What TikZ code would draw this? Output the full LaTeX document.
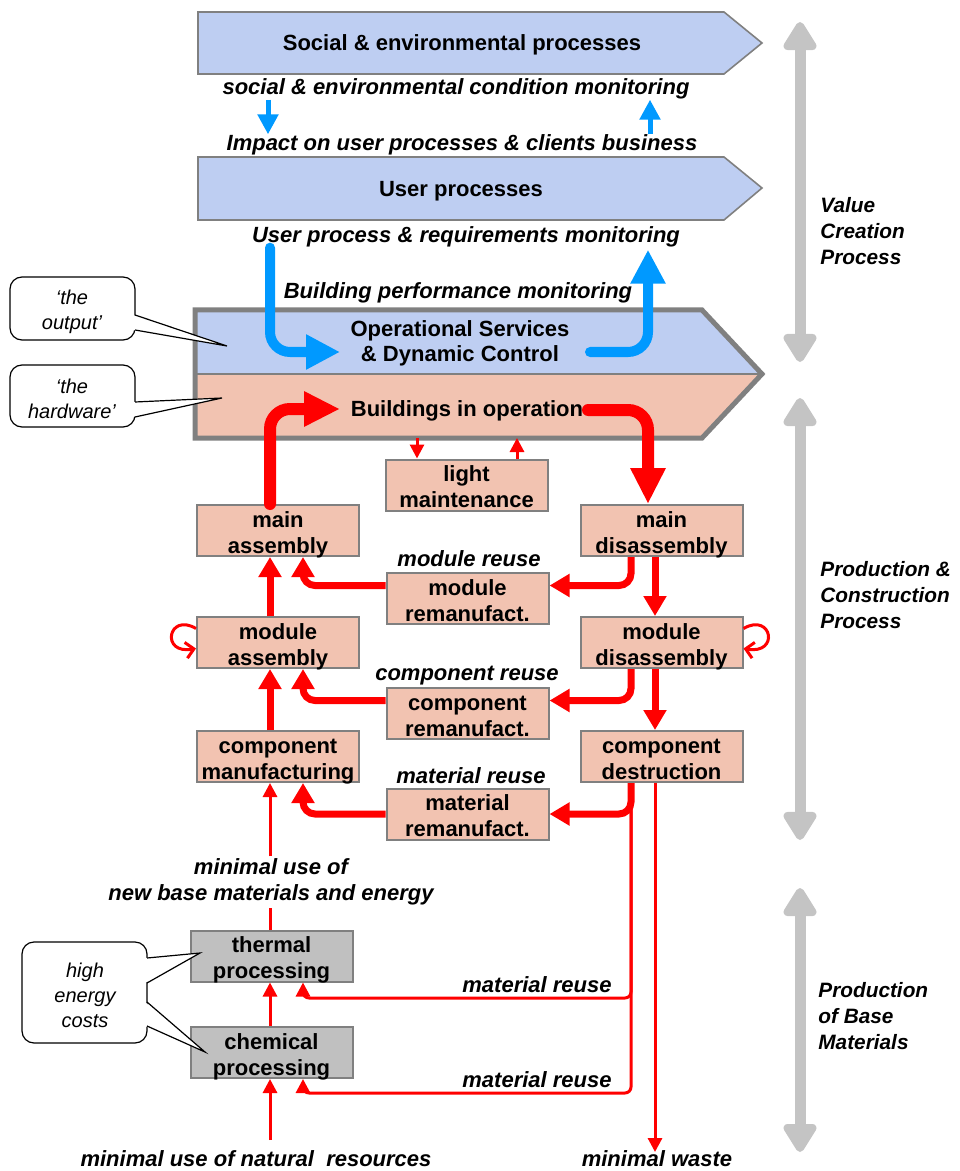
\documentclass[tikz,border=0pt]{standalone}
\usepackage{fontspec}
\setmainfont{Liberation Sans}
\usetikzlibrary{arrows.meta,calc}
\definecolor{procblue}{RGB}{190,206,242}
\definecolor{hwpink}{RGB}{242,195,177}
\definecolor{basegray}{RGB}{192,192,192}
\definecolor{edgegray}{RGB}{128,128,128}
\definecolor{flowblue}{RGB}{0,153,255}
\definecolor{axisgray}{RGB}{196,196,196}
\definecolor{flowred}{RGB}{255,0,0}
% struts that fix the two text lines inside every process box
\newcommand{\boxtopstrut}{\rule{0pt}{13.5pt}}
\newcommand{\boxbotstrut}{\rule[-3.9pt]{0pt}{0pt}}
\begin{document}
\begin{tikzpicture}[x=0.5pt,y=-0.5pt,
  stepbox/.style={draw=edgegray, line width=1pt, fill=hwpink, minimum width=81pt,
    minimum height=25.5pt, inner xsep=0pt, inner ysep=-2.45pt, align=center,
    font=\fontsize{11}{13}\selectfont\bfseries},
  basebox/.style={stepbox, fill=basegray},
  bandtext/.style={inner sep=0pt, align=center, yshift=-1pt,
    font=\fontsize{11}{12.5}\selectfont\bfseries},
  lbl/.style={inner sep=0pt, align=center, yshift=-1pt,
    font=\fontsize{11}{13}\selectfont\bfseries\itshape},
  sidetext/.style={inner sep=0pt, align=left, anchor=west,
    font=\fontsize{10.4}{13}\selectfont\bfseries\itshape},
  calltext/.style={inner sep=0pt, align=center, yshift=-0.6pt,
    font=\fontsize{10}{12.5}\selectfont\itshape},
  callbox/.style={draw=black, line width=0.6pt, fill=white, rounded corners=6pt},
  callline/.style={draw=black, line width=0.6pt},
  redthick/.style={draw=flowred, line width=6pt, line cap=round, rounded corners=10pt,
    -{Triangle[length=18pt,width=16.5pt]}},
  redmed/.style={draw=flowred, line width=3.5pt, rounded corners=6pt,
    -{Triangle[length=10pt,width=11pt]}},
  redthin/.style={draw=flowred, line width=1.5pt, rounded corners=3pt,
    -{Triangle[length=7pt,width=7pt]}},
  redline/.style={draw=flowred, line width=1.5pt, rounded corners=3pt},
  loopline/.style={draw=flowred, line width=1.5pt, -{Straight Barb[length=4pt,width=8pt]}},
  bluethick/.style={draw=flowblue, line width=5pt, line cap=round, rounded corners=10pt,
    -{Triangle[length=17pt,width=16.5pt]}},
  bluesmall/.style={draw=flowblue, line width=2.5pt, -{Triangle[length=10pt,width=10pt]}},
  axisarrow/.style={draw=axisgray, line width=5.5pt,
    {Triangle[length=16pt,width=18.5pt,round]}-{Triangle[length=16pt,width=18.5pt,round]}}
]
\useasboundingbox (0,0) rectangle (959,1171);

% ---- process bands ----
\draw[draw=edgegray, line width=0.8pt, fill=procblue]
  (198,12) -- (724,12) -- (762,43) -- (724,74) -- (198,74) -- cycle;
\node[bandtext] (social) at (462,43) {Social \& environmental processes};

\draw[draw=edgegray, line width=0.8pt, fill=procblue]
  (198,157) -- (724,157) -- (762,188) -- (724,220) -- (198,220) -- cycle;
\node[bandtext] (user) at (461,189) {User processes};

% building frame: operational services on top of the hardware
\fill[procblue] (195,310) -- (702,310) -- (762,374) -- (195,374) -- cycle;
\fill[hwpink] (195,374) -- (762,374) -- (702,438) -- (195,438) -- cycle;
\draw[edgegray, line width=0.6pt] (195,374) -- (760,374);
\draw[edgegray, line width=2.5pt, line join=miter]
  (195,310) -- (702,310) -- (762,374) -- (702,438) -- (195,438) -- cycle;
\node[bandtext] (ops) at (460,341) {Operational Services\\\& Dynamic Control};
\node[bandtext] (bio) at (467,409) {Buildings in operation};

% ---- monitoring labels ----
\node[lbl] (lsoc) at (456,87) {social \& environmental condition monitoring};
\node[lbl] (limp) at (462,143) {Impact on user processes \& clients business};
\node[lbl] (luser) at (466,235) {User process \& requirements monitoring};
\node[lbl] (lbpm) at (458,291) {Building performance monitoring};

% ---- boxes ----
\node[stepbox] (lightm) at (466.5,485) {\boxtopstrut light\\maintenance\boxbotstrut};
\node[stepbox] (mainasm) at (278,530.5) {\boxtopstrut main\\assembly\boxbotstrut};
\node[stepbox] (maindis) at (661.5,530.5) {\boxtopstrut main\\disassembly\boxbotstrut};
\node[stepbox] (modreman) at (467.5,598.5) {\boxtopstrut module\\remanufact.\boxbotstrut};
\node[stepbox] (modasm) at (278,642.5) {\boxtopstrut module\\assembly\boxbotstrut};
\node[stepbox] (moddis) at (661.5,642.5) {\boxtopstrut module\\disassembly\boxbotstrut};
\node[stepbox] (compreman) at (467.5,713.5) {\boxtopstrut component\\remanufact.\boxbotstrut};
\node[stepbox] (compman) at (278,756.5) {\boxtopstrut component\\manufacturing\boxbotstrut};
\node[stepbox] (compdes) at (661.5,756.5) {\boxtopstrut component\\destruction\boxbotstrut};
\node[stepbox] (matreman) at (467.5,814) {\boxtopstrut material\\remanufact.\boxbotstrut};
\node[basebox] (thermal) at (271.5,956) {\boxtopstrut thermal\\processing\boxbotstrut};
\node[basebox] (chemical) at (271.5,1052.5) {\boxtopstrut chemical\\processing\boxbotstrut};

% ---- flow labels ----
\node[lbl] (lmodre) at (469,557) {module reuse};
\node[lbl] (lcompre) at (467,674) {component reuse};
\node[lbl] (lmatre) at (471,774) {material reuse};
\node[lbl, inner sep=1pt] (lnew) at (271,880) {minimal use of\\new base materials and energy};
\node[lbl] (lmatA) at (537,983) {material reuse};
\node[lbl] (lmatB) at (537,1078) {material reuse};
\node[lbl] (lnat) at (256,1157) {minimal use of natural\ \ resources};
\node[lbl] (lwaste) at (657,1157) {minimal waste};

% ---- column and row guides ----
\coordinate (colL) at (270,0);
\coordinate (colLr) at (303,0);
\coordinate (colR) at (655,0);
\coordinate (colRr) at (631,0);
\coordinate (colRt) at (648,0);
\coordinate (colBd) at (268,0);
\coordinate (colBu) at (650,0);
\coordinate (hwbase) at (0,438);
\coordinate (lmdown) at (417,0);
\coordinate (lmup) at (517,0);
\coordinate (rowA) at (0,998);
\coordinate (rowB) at (0,1093);
\coordinate (opsin) at (340,352);
\coordinate (opsout) at (590,352);
\coordinate (bioin) at (340,409);
\coordinate (bioout) at (588,410);
\coordinate (wasteend) at (655,1152);
\coordinate (natstart) at (270,1140);

% ---- blue monitoring flows ----
\draw[bluesmall] (lsoc.south -| colBd) -- (limp.north -| colBd);
\draw[bluesmall] (limp.north -| colBu) -- (lsoc.south -| colBu);
\draw[bluethick] (luser.south -| colL) |- (opsin);
\draw[bluethick] (opsout) -| ([yshift=-1pt]luser.south -| colRt);

% ---- red production flows ----
\draw[redthick] (mainasm.north -| colL) |- (bioin);
\draw[redthick] (bioout) -| (maindis.north -| colRt);
\draw[redthin] (hwbase -| lmdown) -- (lightm.north -| lmdown);
\draw[redthin] (lightm.north -| lmup) -- (hwbase -| lmup);

\draw[redmed] (modasm.north -| colL) -- (mainasm.south -| colL);
\draw[redmed] ([yshift=6.5pt]modreman.west) -| (mainasm.south -| colLr);
\draw[redmed] (maindis.south -| colRr) |- ([yshift=6.5pt]modreman.east);
\draw[redmed] (maindis.south -| colR) -- (moddis.north -| colR);
\draw[redmed] (moddis.south -| colRr) |- ([yshift=6.5pt]compreman.east);
\draw[redmed] (moddis.south -| colR) -- (compdes.north -| colR);
\draw[redmed] ([yshift=6.5pt]compreman.west) -| (modasm.south -| colLr);
\draw[redmed] (compman.north -| colL) -- (modasm.south -| colL);
\draw[redmed] (matreman.west) -| (compman.south -| colLr);
\draw[redmed] (compdes.south -| colRr) |- (matreman.east);

\draw[redthin] (compdes.south -| colRr) |- (rowA -| colLr) -- (thermal.south -| colLr);
\draw[redthin] (compdes.south -| colRr) |- (rowB -| colLr) -- (chemical.south -| colLr);
\draw[redthin] (compdes.south -| colR) -- (wasteend);

\draw[redline] (thermal.north -| colL) -- (lnew.south -| colL);
\draw[redthin] (lnew.north -| colL) -- (compman.south -| colL);
\draw[redthin] (chemical.north -| colL) -- (thermal.south -| colL);
\draw[redthin] (natstart) -- (chemical.south -| colL);

% self loops
\draw[loopline] ([yshift=7pt]modasm.west) .. controls (168,612) and (160,655) .. ([yshift=-3pt]modasm.west);
\draw[loopline] ([yshift=7pt]moddis.east) .. controls (772,612) and (780,655) .. ([yshift=-3pt]moddis.east);

% ---- callouts ----
\draw[callbox] (10,277) rectangle (135,340);
\fill[white] (133,315) -- (227,346) -- (133,330) -- cycle;
\draw[callline] (135,315) -- (227,346) -- (135,330);
\node[calltext] (coutput) at (72,311) {‘the\\output’};

\draw[callbox] (10,365) rectangle (135,427);
\fill[white] (133,402) -- (222,398) -- (133,417) -- cycle;
\draw[callline] (135,402) -- (222,398) -- (135,417);
\node[calltext] (chard) at (72,398) {‘the\\hardware’};

\draw[callbox] (22,942) rectangle (147,1043);
\fill[white] (145,958) -- (200,953) -- (145,983) -- cycle;
\draw[callline] (147,958) -- (200,953) -- (147,983);
\fill[white] (145,1002) -- (205,1052) -- (145,1026) -- cycle;
\draw[callline] (147,1002) -- (205,1052) -- (147,1026);
\node[calltext] (cenergy) at (85,994) {high\\energy\\costs};

% ---- phase axis ----
\coordinate (vcTop) at (800,22);
\coordinate (vcBot) at (800,362);
\coordinate (pcTop) at (800,398);
\coordinate (pcBot) at (800,840);
\coordinate (bmTop) at (800,888);
\coordinate (bmBot) at (800,1152);
\draw[axisarrow] (vcTop) -- (vcBot);
\draw[axisarrow] (pcTop) -- (pcBot);
\draw[axisarrow] (bmTop) -- (bmBot);
\node[sidetext] (pvalue) at (820,231) {Value\\Creation\\Process};
\node[sidetext] (pprod) at (820,595) {Production \&\\Construction\\Process};
\node[sidetext] (pbase) at (818,1016) {Production\\of Base\\Materials};
\end{tikzpicture}
\end{document}
